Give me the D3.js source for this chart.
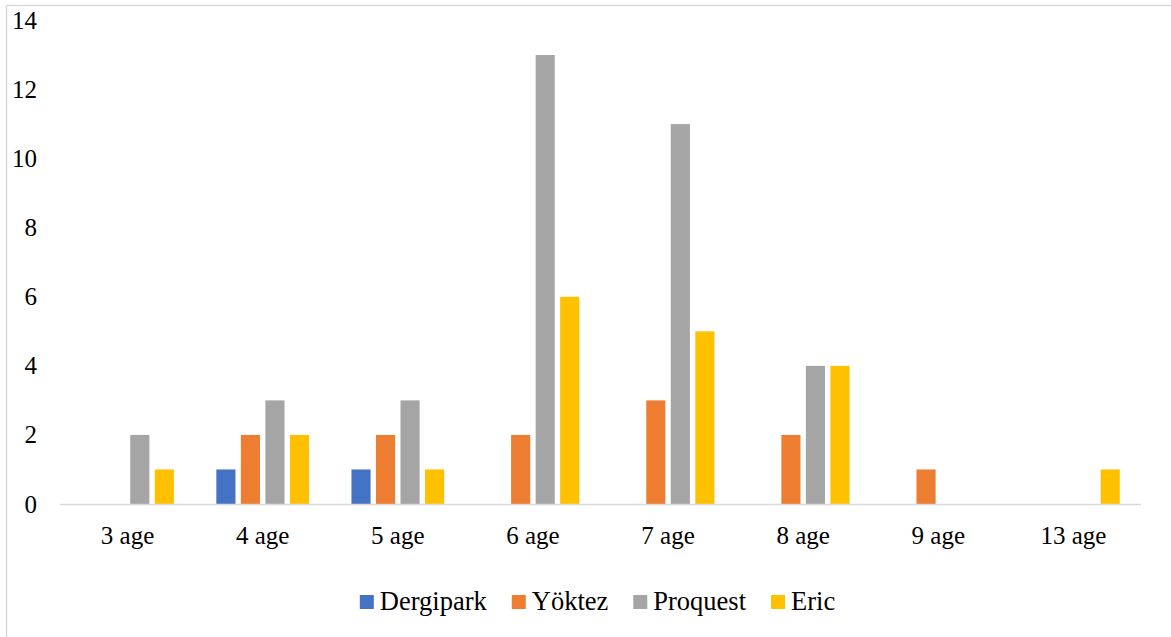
<!DOCTYPE html>
<html>
<head>
<meta charset="utf-8">
<script src="https://cdn.jsdelivr.net/npm/d3@7"></script>
<style>
  body { margin: 0; background: #fff; }
  svg text { font-family: "Liberation Serif", "Times New Roman", serif; fill: #000; }
</style>
</head>
<body>
<svg id="chart"></svg>
<script>
const categories = ["3 age", "4 age", "5 age", "6 age", "7 age", "8 age", "9 age", "13 age"];
const seriesNames = ["Dergipark", "Yöktez", "Proquest", "Eric"];
const dergipark = [0, 1, 1, 0, 0, 0, 0, 0];
const yoktez = [0, 2, 2, 2, 3, 2, 1, 0];
const proquest = [2, 3, 3, 13, 11, 4, 0, 0];
const eric = [1, 2, 1, 6, 5, 4, 0, 1];
const colors = ["#4472C4", "#ED7D31", "#A5A5A5", "#FFC000"];
const yTicks = [0, 2, 4, 6, 8, 10, 12, 14];

const width = 1171, height = 637;
const margin = {top: 20.5, right: 30, bottom: 133, left: 60};
const fontSize = 25;

const svg = d3.select("#chart").attr("width", width).attr("height", height);

// chart border (only top and left visible in the reference crop)
svg.append("line").attr("x1", 6.5).attr("x2", width).attr("y1", 5.5).attr("y2", 5.5)
  .attr("stroke", "#d9d9d9").attr("stroke-width", 1.5);
svg.append("line").attr("x1", 6.5).attr("x2", 6.5).attr("y1", 5.5).attr("y2", height)
  .attr("stroke", "#d9d9d9").attr("stroke-width", 1.5);

const allSeries = [dergipark, yoktez, proquest, eric];

let xScale = d3.scaleBand()
  .domain(categories)
  .range([margin.left, width - margin.right]);

let xInner = d3.scaleBand()
  .domain(seriesNames)
  .range([0, xScale.bandwidth()])
  .paddingInner(0.22)
  .paddingOuter(0.865);

let yScale = d3.scaleLinear()
  .domain([0, 14])
  .range([height - margin.bottom, margin.top]);

// y labels, no axis line
svg.append("g").selectAll("text")
  .data(yTicks)
  .join("text")
  .attr("x", 37)
  .attr("y", d => yScale(d) + 8.5)
  .attr("text-anchor", "end")
  .style("font-size", fontSize + "px")
  .text(d => d);

// bars
const groups = svg.append("g").selectAll("g")
  .data(categories)
  .join("g")
  .attr("transform", d => `translate(${xScale(d)},0)`);

groups.selectAll("rect")
  .data((c, i) => seriesNames.map((s, j) => ({series: s, idx: j, value: allSeries[j][i]})))
  .join("rect")
  .attr("x", d => xInner(d.series))
  .attr("width", xInner.bandwidth())
  .attr("y", d => yScale(d.value))
  .attr("height", d => yScale(0) - yScale(d.value))
  .attr("fill", d => colors[d.idx]);

// baseline
svg.append("line")
  .attr("x1", margin.left).attr("x2", width - margin.right)
  .attr("y1", yScale(0) + 0.5).attr("y2", yScale(0) + 0.5)
  .attr("stroke", "#d9d9d9").attr("stroke-width", 1.5);

// x labels
svg.append("g").selectAll("text")
  .data(categories)
  .join("text")
  .attr("x", d => xScale(d) + xScale.bandwidth() / 2)
  .attr("y", 544)
  .attr("text-anchor", "middle")
  .style("font-size", fontSize + "px")
  .text(d => d);

// legend
const legend = svg.append("g");
let items = legend.selectAll("g")
  .data(seriesNames)
  .join("g");
items.append("rect")
  .attr("width", 14).attr("height", 14)
  .attr("y", -15)
  .attr("fill", (d, i) => colors[i]);
items.append("text")
  .attr("x", 20)
  .style("font-size", "26.5px")
  .text(d => d);

let offset = 0;
items.each(function () {
  const g = d3.select(this);
  g.attr("transform", `translate(${offset},610)`);
  offset += 20 + g.select("text").node().getComputedTextLength() + 25;
});
const totalW = offset - 25;
legend.attr("transform", `translate(${(margin.left + width - margin.right) / 2 - totalW / 2 - 3},0)`);
</script>
</body>
</html>
